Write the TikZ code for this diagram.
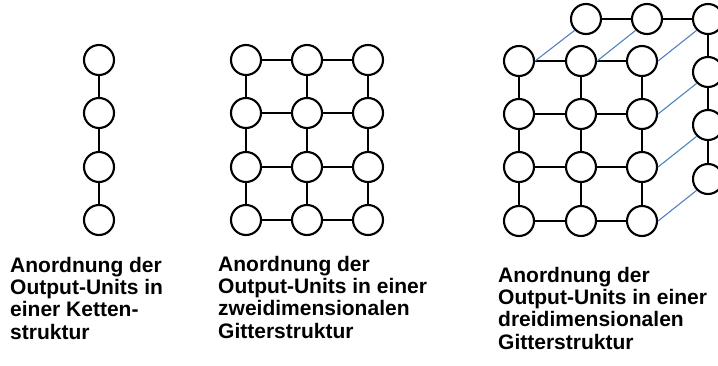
\documentclass[tikz,border=0pt]{standalone}
\usepackage{fontspec}
\setmainfont{Liberation Sans}
\begin{document}
\begin{tikzpicture}[x=1pt,y=-1pt,
  unit/.style={circle,draw=black,line width=2.1pt,fill=white,minimum size=30pt,inner sep=0pt},
  link/.style={line width=2.1pt,black},
  depth/.style={line width=1.1pt,draw={rgb,255:red,79;green,129;blue,189}},
  caption/.style={anchor=base west,align=left,inner sep=0pt,
    font=\fontsize{21}{22.3}\selectfont\bfseries}]
\useasboundingbox (0,0) rectangle (718,365);

% chain of four units
\foreach \r/\y in {1/60,2/113,3/167,4/220}
  \node[unit] (c\r) at (99,\y) {};
\draw[link] (c1) -- (c2) (c2) -- (c3) (c3) -- (c4);

% two-dimensional grid
\foreach \c/\x in {1/246,2/307,3/368}
  \foreach \r/\y in {1/60,2/113,3/167,4/220}
    \node[unit] (g\c\r) at (\x,\y) {};
\foreach \c in {1,2,3}
  \draw[link] (g\c1) -- (g\c2) (g\c2) -- (g\c3) (g\c3) -- (g\c4);
\foreach \r in {1,2,3,4}
  \draw[link] (g1\r) -- (g2\r) (g2\r) -- (g3\r);

% three-dimensional grid: back layer (top row and right column)
\node[unit] (b11) at (586,19) {};
\node[unit] (b21) at (647,19) {};
\node[unit] (b31) at (708,19) {};
\node[unit] (b32) at (708,72) {};
\node[unit] (b33) at (708,125) {};
\node[unit] (b34) at (708,179) {};
\draw[link] (b11) -- (b21) (b21) -- (b31) (b31) -- (b32) (b32) -- (b33) (b33) -- (b34);

% three-dimensional grid: front layer
\foreach \c/\x in {1/519,2/581,3/642}
  \foreach \r/\y in {1/61,2/114,3/167,4/221}
    \node[unit] (f\c\r) at (\x,\y) {};
\foreach \c in {1,2,3}
  \draw[link] (f\c1) -- (f\c2) (f\c2) -- (f\c3) (f\c3) -- (f\c4);
\foreach \r in {1,2,3,4}
  \draw[link] (f1\r) -- (f2\r) (f2\r) -- (f3\r);

% depth connections between the layers
\draw[depth] (f11.east) -- (b11.south west);
\draw[depth] (f21.east) -- (b21.south west);
\draw[depth] (f31.east) -- (b31.south west);
\draw[depth] (f32.east) -- (b32.south west);
\draw[depth] (f33.east) -- (b33.south west);
\draw[depth] (f34.east) -- (b34.south west);

% captions (anchored at the baseline of the last line)
\node[caption] (t1) at (10,339) {Anordnung der\\Output-Units in\\einer Ketten-\\struktur};
\node[caption] (t2) at (218,338) {Anordnung der\\Output-Units in einer\\zweidimensionalen\\Gitterstruktur};
\node[caption] (t3) at (498,349) {Anordnung der\\Output-Units in einer\\dreidimensionalen\\Gitterstruktur};
\end{tikzpicture}
\end{document}
